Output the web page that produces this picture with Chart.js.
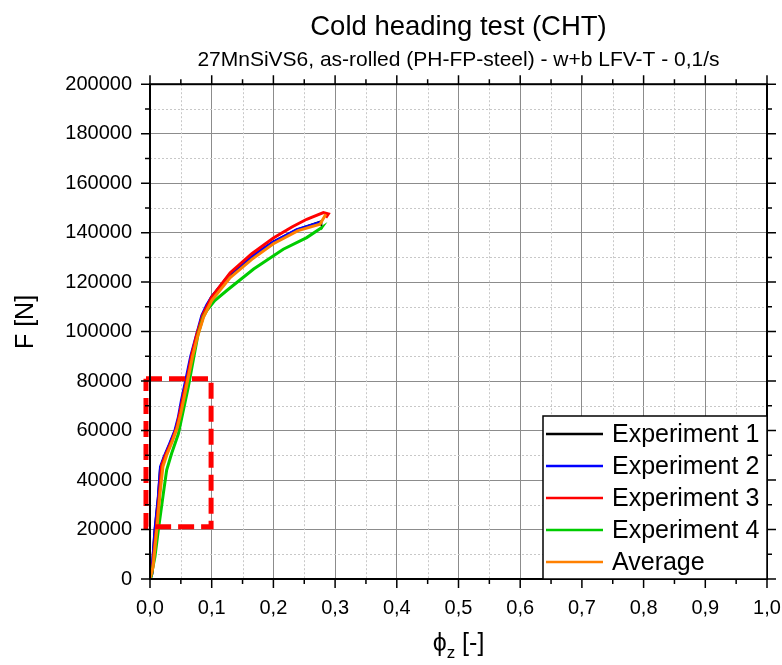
<!DOCTYPE html>
<html>
<head>
<meta charset="utf-8">
<script src="https://cdn.jsdelivr.net/npm/chart.js@4.4.1/dist/chart.umd.min.js"></script>
<style>
  html, body { margin: 0; padding: 0; background: #fff; }
</style>
</head>
<body>
<canvas id="cht" width="782" height="665"></canvas>
<script>
/* Cold heading test — force vs. logarithmic strain, four runs + average */

const SERIES_NAMES  = ['Experiment 1', 'Experiment 2', 'Experiment 3', 'Experiment 4', 'Average'];
const SERIES_COLORS = ['#000000', '#0000ff', '#ff0000', '#00cc00', '#ff8000'];

const phiExp1 = [0, 0.003, 0.008, 0.0135, 0.017, 0.023, 0.032, 0.041, 0.047, 0.052, 0.060, 0.067, 0.074, 0.085, 0.1, 0.13, 0.162, 0.2, 0.238, 0.276, 0.277];
const fExp1   = [0, 2000, 19000, 32500, 44500, 49000, 54300, 59800, 65200, 72000, 81200, 89500, 96000, 106500, 114000, 123000, 129600, 136200, 141000, 144300, 143800];

const phiExp2 = [0, 0.003, 0.008, 0.0135, 0.017, 0.0227, 0.032, 0.0405, 0.046, 0.051, 0.059, 0.066, 0.073, 0.084, 0.092, 0.1, 0.13, 0.162, 0.2, 0.238, 0.2755, 0.277];
const fExp2   = [0, 2300, 19800, 33200, 45300, 49300, 54700, 60100, 65400, 72200, 81600, 90000, 96400, 106500, 110800, 114000, 123400, 130000, 136200, 141200, 144100, 143500];

const phiExp3 = [0, 0.004, 0.010, 0.015, 0.019, 0.025, 0.034, 0.043, 0.049, 0.054, 0.061, 0.068, 0.076, 0.086, 0.1, 0.13, 0.165, 0.2, 0.23, 0.254, 0.281, 0.289, 0.285];
const fExp3   = [0, 4000, 20000, 34000, 46000, 50000, 55000, 61000, 68000, 74000, 82000, 91000, 99000, 107000, 114000, 123800, 131500, 137800, 142300, 145400, 148100, 147600, 146100];

const phiExp4 = [0.001, 0.008, 0.0135, 0.0216, 0.027, 0.035, 0.046, 0.054, 0.062, 0.067, 0.070, 0.078, 0.086, 0.092, 0.105, 0.124, 0.168, 0.216, 0.254, 0.278, 0.276];
const fExp4   = [0, 9000, 19800, 34500, 44000, 50700, 58700, 68100, 77500, 84300, 88300, 99000, 105800, 108500, 112500, 116500, 125300, 133300, 138000, 142000, 141300];

const phiAvg  = [0, 0.005, 0.011, 0.016, 0.021, 0.027, 0.036, 0.044, 0.050, 0.055, 0.062, 0.069, 0.077, 0.087, 0.1, 0.13, 0.165, 0.2, 0.24, 0.2755, 0.285];
const fAvg    = [0, 5000, 20000, 34000, 45500, 50000, 55500, 61000, 67000, 73000, 81500, 90000, 98000, 106000, 112500, 121800, 129200, 135500, 140800, 143400, 147400];

// highlighted region (elastic / transition zone)
const boxPhi = [-0.0065, 0.099, 0.099, -0.0065, -0.0065];
const boxF   = [80900, 80900, 21100, 21100, 80900];

const X_MAJOR = 0.1, X_MINOR = 0.05;
const Y_MAJOR = 20000, Y_MINOR = 10000;

const toPts = (xs, ys) => xs.map((x, i) => ({ x, y: ys[i] }));

const curves = [
  [phiExp1, fExp1], [phiExp2, fExp2], [phiExp3, fExp3], [phiExp4, fExp4], [phiAvg, fAvg]
];
// draw order: average on top, experiment 1 at the bottom
const ORDER = [4, 3, 2, 1, 0];

const datasets = curves.map((c, i) => ({
  label: SERIES_NAMES[i],
  data: toPts(c[0], c[1]),
  borderColor: SERIES_COLORS[i],
  backgroundColor: SERIES_COLORS[i],
  borderWidth: 3,
  showLine: true,
  pointRadius: 0,
  tension: 0,
  order: ORDER[i]
}));
datasets.push({
  label: '',
  data: toPts(boxPhi, boxF),
  borderColor: '#ff0000',
  borderWidth: 5,
  borderDash: [16, 7],
  borderJoinStyle: 'miter',
  showLine: true,
  pointRadius: 0,
  clip: false,
  order: -1
});

const FONT = 'Arial, "Liberation Sans", sans-serif';

// minor dotted grid underneath the curves
const minorGrid = {
  id: 'minorGrid',
  beforeDatasetsDraw(chart) {
    const { ctx, chartArea: a, scales: { x, y } } = chart;
    ctx.save();
    ctx.strokeStyle = '#c8c8c8';
    ctx.lineWidth = 1;
    ctx.setLineDash([2, 2]);
    for (let v = X_MINOR; v < x.max; v += X_MAJOR) {
      const px = Math.round(x.getPixelForValue(v)) + 0.5;
      ctx.beginPath(); ctx.moveTo(px, a.top); ctx.lineTo(px, a.bottom); ctx.stroke();
    }
    for (let v = Y_MINOR; v < y.max; v += Y_MAJOR) {
      const py = Math.round(y.getPixelForValue(v)) + 0.5;
      ctx.beginPath(); ctx.moveTo(a.left, py); ctx.lineTo(a.right, py); ctx.stroke();
    }
    ctx.restore();
  }
};

// box frame with outward major / minor ticks on all four sides
const frame = {
  id: 'frame',
  afterDatasetsDraw(chart) {
    const { ctx, chartArea: a, scales: { x, y } } = chart;
    ctx.save();
    ctx.strokeStyle = '#000';
    ctx.lineWidth = 2;
    ctx.strokeRect(a.left, a.top, a.right - a.left, a.bottom - a.top);
    ctx.lineWidth = 1.5;
    ctx.beginPath();
    const nx = Math.round((x.max - x.min) / X_MINOR);
    for (let i = 0; i <= nx; i++) {
      const px = x.getPixelForValue(x.min + i * X_MINOR);
      const len = i % 2 === 0 ? 9 : 5;
      ctx.moveTo(px, a.bottom); ctx.lineTo(px, a.bottom + len);
      ctx.moveTo(px, a.top);    ctx.lineTo(px, a.top - len);
    }
    const ny = Math.round((y.max - y.min) / Y_MINOR);
    for (let i = 0; i <= ny; i++) {
      const py = y.getPixelForValue(y.min + i * Y_MINOR);
      const len = i % 2 === 0 ? 9 : 5;
      ctx.moveTo(a.left, py);  ctx.lineTo(a.left - len, py);
      ctx.moveTo(a.right, py); ctx.lineTo(a.right + len, py);
    }
    ctx.stroke();
    ctx.restore();
  }
};

// legend box tucked into the lower right corner of the plot
const cornerLegend = {
  id: 'cornerLegend',
  afterDatasetsDraw(chart) {
    const { ctx, chartArea: a } = chart;
    const w = 224, h = 163;
    const left = a.right - w, top = a.bottom - h;
    ctx.save();
    ctx.fillStyle = '#fff';
    ctx.fillRect(left, top, w, h);
    ctx.strokeStyle = '#000';
    ctx.lineWidth = 1.5;
    ctx.strokeRect(left, top, w, h);
    ctx.font = '25px ' + FONT;
    ctx.textBaseline = 'middle';
    ctx.textAlign = 'left';
    SERIES_NAMES.forEach((name, i) => {
      const yy = top + 18 + i * 32;
      ctx.strokeStyle = SERIES_COLORS[i];
      ctx.lineWidth = 2.5;
      ctx.beginPath(); ctx.moveTo(left + 3, yy); ctx.lineTo(left + 60, yy); ctx.stroke();
      ctx.fillStyle = '#000';
      ctx.fillText(name, left + 69, yy + 1);
    });
    ctx.restore();
  }
};

// axis titles: F [N] on the left, phi_z [-] (with subscript) below
const axisTitles = {
  id: 'axisTitles',
  afterDraw(chart) {
    const { ctx, chartArea: a } = chart;
    const big = '25px ' + FONT, small = '17px ' + FONT;
    ctx.save();
    ctx.fillStyle = '#000';

    ctx.save();
    ctx.translate(33, 322);
    ctx.rotate(-Math.PI / 2);
    ctx.font = big;
    ctx.textAlign = 'center';
    ctx.textBaseline = 'alphabetic';
    ctx.fillText('F [N]', 0, 0);
    ctx.restore();

    const base = 651;
    ctx.textBaseline = 'alphabetic';
    ctx.textAlign = 'left';
    ctx.font = big;   const w1 = ctx.measureText('\u03D5').width;
    ctx.font = small; const w2 = ctx.measureText('z').width;
    ctx.font = big;   const w3 = ctx.measureText(' [-]').width;
    let xx = (a.left + a.right) / 2 - (w1 + w2 + w3) / 2;
    ctx.font = big;   ctx.fillText('\u03D5', xx, base); xx += w1;
    ctx.font = small; ctx.fillText('z', xx, base + 7); xx += w2;
    ctx.font = big;   ctx.fillText(' [-]', xx, base);
    ctx.restore();
  }
};

new Chart(document.getElementById('cht'), {
  type: 'scatter',
  data: { datasets },
  options: {
    responsive: false,
    animation: false,
    layout: { padding: { left: 0, right: 15, top: 0, bottom: 0 } },
    plugins: {
      legend: { display: false },
      tooltip: { enabled: false },
      title: {
        display: true, fullSize: false,
        text: 'Cold heading test (CHT)',
        color: '#000',
        font: { family: FONT, size: 27.5, weight: 'normal' },
        padding: { top: 11, bottom: 2 }
      },
      subtitle: {
        display: true, fullSize: false,
        text: '27MnSiVS6, as-rolled (PH-FP-steel) - w+b LFV-T - 0,1/s',
        color: '#000',
        font: { family: FONT, size: 21, weight: 'normal' },
        padding: { top: 2, bottom: 11 }
      }
    },
    scales: {
      x: {
        type: 'linear', min: 0, max: 1,
        afterFit: s => { s.height = 86; s.paddingLeft = 0; s.paddingRight = 0; },
        border: { display: false },
        grid: { color: '#8c8c8c', lineWidth: 1, drawTicks: false },
        ticks: {
          stepSize: X_MAJOR, padding: 17, color: '#000',
          font: { family: FONT, size: 20 },
          maxRotation: 0,
          callback: v => v.toFixed(1).replace('.', ',')
        }
      },
      y: {
        min: 0, max: 200000,
        afterFit: s => { s.width = 150; s.paddingTop = 0; s.paddingBottom = 0; },
        border: { display: false },
        grid: { color: '#8c8c8c', lineWidth: 1, drawTicks: false },
        ticks: {
          stepSize: Y_MAJOR, padding: 18, color: '#000',
          font: { family: FONT, size: 20 },
          callback: v => String(v)
        }
      }
    }
  },
  plugins: [minorGrid, frame, cornerLegend, axisTitles]
});
</script>
</body>
</html>
